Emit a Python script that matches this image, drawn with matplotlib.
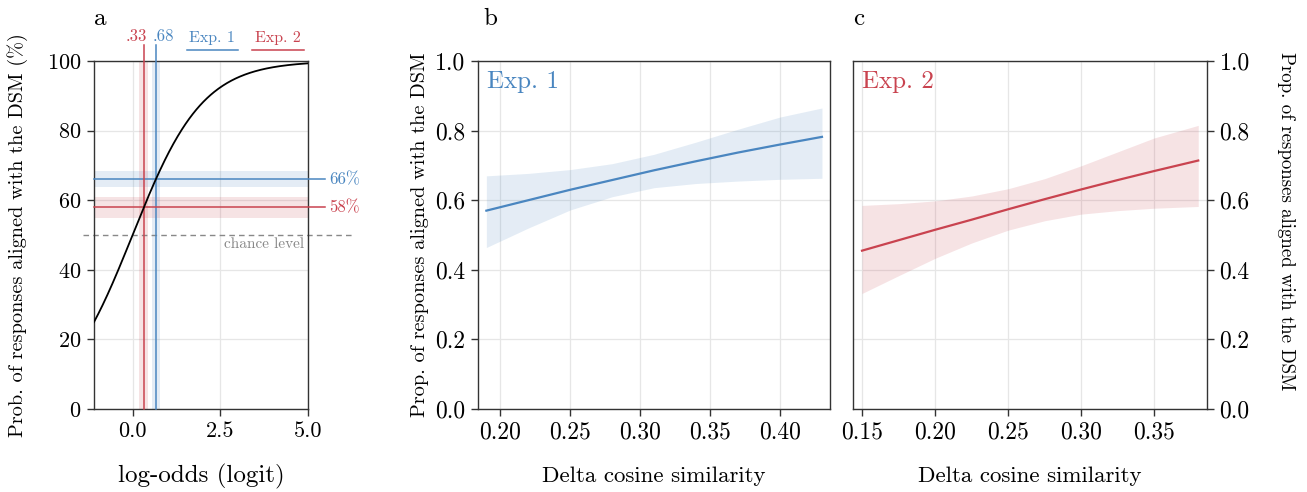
import numpy as np
import matplotlib
matplotlib.use("Agg")
import matplotlib.pyplot as plt

plt.rcParams["font.family"] = "serif"
plt.rcParams["font.serif"] = ["cmr10", "DejaVu Serif"]
plt.rcParams["mathtext.fontset"] = "cm"
plt.rcParams["axes.formatter.use_mathtext"] = True

BLUE = "#4a86c0"
RED = "#c9434f"
GRID = "#e6e6e6"

# panel a: logit estimates and percentages
exp_names = ["Exp. 1", "Exp. 2"]
logit_est = [0.68, 0.33]
logit_lo = [0.55, 0.19]
logit_hi = [0.78, 0.44]
pct_est = [66, 58]
pct_lo = [63.8, 54.9]
pct_hi = [68.4, 60.9]

# panel b: Exp. 1 fitted line and CI
b_x = [0.19, 0.22, 0.25, 0.28, 0.31, 0.34, 0.37, 0.40, 0.43]
b_y = [0.570, 0.600, 0.630, 0.658, 0.686, 0.712, 0.737, 0.760, 0.782]
b_lo = [0.464, 0.520, 0.572, 0.610, 0.636, 0.648, 0.655, 0.660, 0.663]
b_hi = [0.670, 0.677, 0.688, 0.705, 0.732, 0.767, 0.804, 0.839, 0.865]

# panel c: Exp. 2 fitted line and CI
c_x = [0.15, 0.175, 0.20, 0.225, 0.25, 0.275, 0.30, 0.325, 0.35, 0.38]
c_y = [0.455, 0.485, 0.515, 0.544, 0.574, 0.603, 0.631, 0.658, 0.684, 0.714]
c_lo = [0.332, 0.383, 0.433, 0.477, 0.514, 0.541, 0.560, 0.570, 0.577, 0.582]
c_hi = [0.585, 0.590, 0.598, 0.612, 0.633, 0.662, 0.699, 0.739, 0.779, 0.815]

fig = plt.figure(figsize=(13.07, 4.92), dpi=100)
ax_a = fig.add_axes([0.0719, 0.1687, 0.1637, 0.7073])
ax_b = fig.add_axes([0.3657, 0.1687, 0.2693, 0.7073])
ax_c = fig.add_axes([0.6526, 0.1687, 0.2709, 0.7073])

for ax in (ax_a, ax_b, ax_c):
    for sp in ax.spines.values():
        sp.set_color("#333333")
        sp.set_linewidth(1.0)
    ax.grid(True, color=GRID, linewidth=0.9)
    ax.set_axisbelow(True)
    ax.tick_params(labelsize=17, length=5, width=1.0, color="#333333", pad=4)
ax_a.tick_params(labelsize=16)

# ---- panel a
xs = np.linspace(-1.1, 5.0, 300)
ax_a.plot(xs, 100 / (1 + np.exp(-xs)), color="black", lw=1.3, zorder=5)
ax_a.set_xlim(-1.1, 5.0)
ax_a.set_ylim(0, 100)
ax_a.set_xticks([0.0, 2.5, 5.0])
ax_a.set_xticklabels(["0.0", "2.5", "5.0"])
ax_a.set_yticks([0, 20, 40, 60, 80, 100])

cols = [BLUE, RED]
for i in range(2):
    c = cols[i]
    ax_a.axvspan(logit_lo[i], logit_hi[i], color=c, alpha=0.15, lw=0, zorder=1)
    ax_a.plot([logit_est[i], logit_est[i]], [0, 104.6], color=c, lw=1.1,
              clip_on=False, zorder=3)
    ax_a.axhspan(pct_lo[i], pct_hi[i], color=c, alpha=0.15, lw=0, zorder=1)
    ax_a.plot([-1.1, 5.5], [pct_est[i], pct_est[i]], color=c, lw=1.1,
              clip_on=False, zorder=3)
    ax_a.text(5.6, pct_est[i], f"{pct_est[i]}%", color=c, fontsize=12,
              ha="left", va="center", clip_on=False)

ax_a.text(0.41, 107.2, ".33", color=RED, fontsize=12, ha="right", va="center")
ax_a.text(0.57, 107.2, ".68", color=BLUE, fontsize=12, ha="left", va="center")

# legend-like labels on top
leg_x = [(1.54, 3.0), (3.4, 4.89)]
for i in range(2):
    x0, x1 = leg_x[i]
    ax_a.plot([x0, x1], [103.2, 103.2], color=cols[i], lw=1.1, clip_on=False)
    ax_a.text((x0 + x1) / 2, 106.6, exp_names[i], color=cols[i], fontsize=11.5,
              ha="center", va="center")

ax_a.plot([-1.4, 6.35], [50, 50], color="#888888", lw=1.0, ls=(0, (4, 3)),
          clip_on=False, zorder=2)
ax_a.text(4.9, 47.3, "chance level", color="#888888", fontsize=11,
          ha="right", va="center")

ax_a.set_xlabel("log-odds (logit)", fontsize=18, va="center")
ax_a.xaxis.set_label_coords(0.5, -0.193)
ax_a.set_ylabel("Prob. of responses aligned with the DSM (%)", fontsize=14.6,
                va="center")
ax_a.yaxis.set_label_coords(-0.355, 0.5)

# ---- panel b
ax_b.fill_between(b_x, b_lo, b_hi, color=BLUE, alpha=0.15, lw=0)
ax_b.plot(b_x, b_y, color=BLUE, lw=1.6)
ax_b.set_xlim(0.184, 0.4357)
ax_b.set_ylim(0, 1)
ax_b.set_xticks([0.20, 0.25, 0.30, 0.35, 0.40])
ax_b.set_xticklabels(["0.20", "0.25", "0.30", "0.35", "0.40"])
ax_b.set_yticks([0, 0.2, 0.4, 0.6, 0.8, 1.0])
ax_b.set_yticklabels(["0.0", "0.2", "0.4", "0.6", "0.8", "1.0"])
ax_b.text(0.025, 0.94, "Exp. 1", color=BLUE, fontsize=18, transform=ax_b.transAxes,
          ha="left", va="center")
ax_b.set_xlabel("Delta cosine similarity", fontsize=16.5, va="center")
ax_b.xaxis.set_label_coords(0.5, -0.193)
ax_b.set_ylabel("Prop. of responses aligned with the DSM", fontsize=14.6,
                va="center")
ax_b.yaxis.set_label_coords(-0.165, 0.5)

# ---- panel c
ax_c.fill_between(c_x, c_lo, c_hi, color=RED, alpha=0.15, lw=0)
ax_c.plot(c_x, c_y, color=RED, lw=1.6)
ax_c.set_xlim(0.1438, 0.386)
ax_c.set_ylim(0, 1)
ax_c.set_xticks([0.15, 0.20, 0.25, 0.30, 0.35])
ax_c.set_xticklabels(["0.15", "0.20", "0.25", "0.30", "0.35"])
ax_c.set_yticks([0, 0.2, 0.4, 0.6, 0.8, 1.0])
ax_c.set_yticklabels(["0.0", "0.2", "0.4", "0.6", "0.8", "1.0"])
ax_c.yaxis.tick_right()
ax_c.yaxis.set_label_position("right")
ax_c.text(0.025, 0.94, "Exp. 2", color=RED, fontsize=18, transform=ax_c.transAxes,
          ha="left", va="center")
ax_c.set_xlabel("Delta cosine similarity", fontsize=16.5, va="center")
ax_c.xaxis.set_label_coords(0.5, -0.193)
ax_c.set_ylabel("Prop. of responses aligned with the DSM", fontsize=13.6,
                rotation=270, va="center")
ax_c.yaxis.set_label_coords(1.222, 0.54)

# panel letters
for ax, lab, xo in ((ax_a, "a", 0.0), (ax_b, "b", 0.014), (ax_c, "c", 0.0)):
    ax.text(xo, 1.12, lab, transform=ax.transAxes, fontsize=18,
            ha="left", va="center")

fig.savefig("out.png", dpi=100)
